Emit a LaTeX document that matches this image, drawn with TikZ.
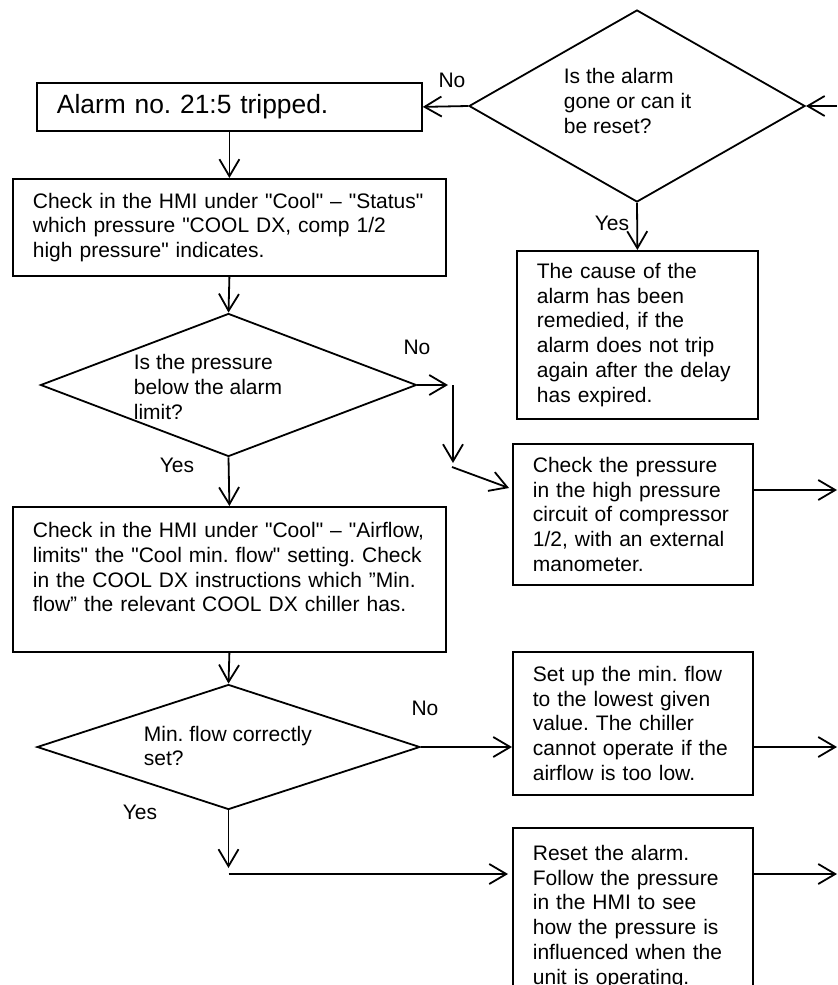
\documentclass[tikz,border=0pt]{standalone}
\usepackage{fontspec}
\setmainfont{Liberation Sans}
\usetikzlibrary{shapes.geometric, arrows.meta}
\newcommand{\qd}{\textquotedbl}

\begin{document}
\frenchspacing
\begin{tikzpicture}[x=0.5pt, y=-0.5pt, line width=0.9pt,
		font=\fontsize{10.5}{12.4}\selectfont,
		arr/.style={-{Straight Barb[length=8.5pt, width=10pt]}},
		stepbox/.style={draw, anchor=north west, align=left, inner xsep=10pt, inner ysep=0pt, text width=#1},
		decision/.style={draw, diamond, inner sep=0pt},
		qtext/.style={anchor=west, align=left, inner sep=0pt},
		answer/.style={inner sep=0pt}]
			% Page frame (bottom box runs off the page)
			\useasboundingbox (0,0) rectangle (837,985);
			\clip (0,0) rectangle (837,985);
			
			% Decisions
			\node[decision, minimum width=168pt, minimum height=96pt] (resetq) at (637,106) {};
			\node[qtext] (resetqtext) at (563,101) {Is the alarm\\gone or can it\\be reset?};
			\node[decision, minimum width=188pt, minimum height=71.5pt] (pressq) at (228.5,385) {};
			\node[qtext] (pressqtext) at (133,387) {Is the pressure\\below the alarm\\limit?};
			\node[decision, minimum width=191.5pt, minimum height=62.5pt] (flowq) at (228.5,747) {};
			\node[qtext] (flowqtext) at (143,746) {Min. flow correctly\\set?};
			
			% Steps
			\node[stepbox=172.5pt, minimum height=24pt, font=\fontsize{13.2}{15}\selectfont] (alarm) at (36,82) {Alarm no. 21:5 tripped.};
			\node[stepbox=196.5pt, minimum height=48.5pt] (checkHMI) at (12,178) {Check in the HMI under \qd Cool\qd{} – \qd Status\qd\\which pressure \qd COOL DX, comp 1/2\\high pressure\qd{} indicates.};
			\node[stepbox=100.5pt, minimum height=84pt] (remedied) at (516,250) {The cause of the\\alarm has been\\remedied, if the\\alarm does not trip\\again after the delay\\has expired.};
			\node[stepbox=100pt, minimum height=70.5pt] (checkext) at (512,443) {Check the pressure\\in the high pressure\\circuit of compressor\\1/2, with an external\\manometer.};
			\node[stepbox=196.5pt, minimum height=72.5pt] (airflow) at (12,506) {Check in the HMI under \qd Cool\qd{} – \qd Airflow,\\limits\qd{} the \qd Cool min. flow\qd{} setting. Check\\in the COOL DX instructions which ”Min.\\flow” the relevant COOL DX chiller has.\\\mbox{}};
			\node[stepbox=100pt, minimum height=71.5pt] (setflow) at (512,651) {Set up the min. flow\\to the lowest given\\value. The chiller\\cannot operate if the\\airflow is too low.};
			\node[stepbox=100pt, minimum height=89pt] (resetalarm) at (512,827) {Reset the alarm.\\Follow the pressure\\in the HMI to see\\how the pressure is\\influenced when the\\unit is operating.};
			
			% Answers
			\node[answer] (noreset) at (452,80) {No};
			\node[answer] (yesreset) at (612,223) {Yes};
			\node[answer] (nopress) at (417,347) {No};
			\node[answer] (yespress) at (177,465) {Yes};
			\node[answer] (noflow) at (425,708) {No};
			\node[answer] (yesflow) at (140,812) {Yes};
			
			% Loose ends
			\coordinate (loopin) at (837,106);
			\coordinate (pressa) at (448,385);
			\coordinate (pressb) at (453,385);
			\coordinate (pressc) at (453,463);
			\coordinate (pressd) at (452,467);
			\coordinate (presse) at (509,488);
			\coordinate (extout) at (837,490);
			\coordinate (flowout) at (837,747);
			\coordinate (yesa) at (228.5,868);
			\coordinate (yesb) at (228.5,874);
			\coordinate (yesc) at (508,874);
			\coordinate (resetout) at (837,874);
			
			% Connectors
			\draw[arr] (loopin) -- (resetq.east);
			\draw[arr] (resetq.west) -- (alarm.east);
			\draw[arr] (resetq.south) -- (remedied.north);
			\draw[arr] (alarm.south) -- (checkHMI.north);
			\draw[arr] (checkHMI.south) -- (pressq.north);
			\draw[arr] (pressq.east) -- (pressa);
			\draw[arr] (pressb) -- (pressc);
			\draw[arr] (pressd) -- (presse);
			\draw[arr] (checkext.east |- extout) -- (extout);
			\draw[arr] (pressq.south) -- (airflow.north);
			\draw[arr] (airflow.south) -- (flowq.north);
			\draw[arr] (flowq.east) -- (flowq.east -| setflow.west);
			\draw[arr] (setflow.east |- flowq.east) -- (flowout);
			\draw[arr] (flowq.south) -- (yesa);
			\draw[arr] (yesb) -- (yesc);
			\draw[arr] (resetalarm.east |- yesb) -- (resetout);
		\end{tikzpicture}
\end{document}
